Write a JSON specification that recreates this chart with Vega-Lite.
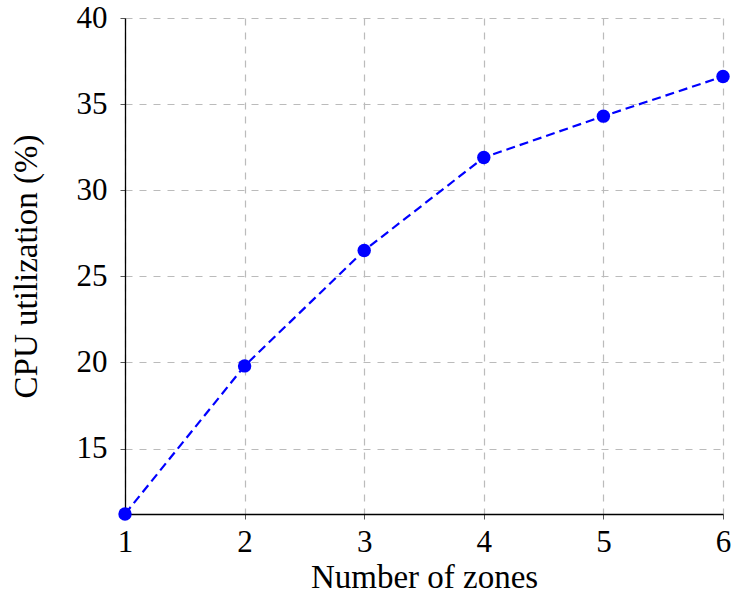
{
  "$schema": "https://vega.github.io/schema/vega-lite/v6.json",
  "width": 598,
  "height": 496,
  "autosize": "none",
  "padding": {"left": 125, "top": 18, "right": 9, "bottom": 82},
  "background": "white",
  "config": {"view": {"stroke": null}, "font": "Liberation Serif"},
  "data": {"values": [
    {"zones": 1, "cpu": 11.2},
    {"zones": 2, "cpu": 19.8},
    {"zones": 3, "cpu": 26.5},
    {"zones": 4, "cpu": 31.9},
    {"zones": 5, "cpu": 34.3},
    {"zones": 6, "cpu": 36.6}
  ]},
  "encoding": {
    "x": {"field": "zones", "type": "quantitative",
      "scale": {"domain": [1, 6], "nice": false, "zero": false},
      "axis": {"values": [1, 2, 3, 4, 5, 6], "title": "Number of zones", "titleFont": "Liberation Serif", "titleFontSize": 33, "titleFontWeight": "normal", "titleColor": "black", "titlePadding": 4,
        "labelFont": "Liberation Serif", "labelFontSize": 31, "labelColor": "black", "labelPadding": 8, "labelFlush": false,
        "domainColor": "black", "domainWidth": 1.3, "tickColor": "#555", "tickSize": 5, "tickOffset": 0,
        "grid": true, "gridColor": "#bbbbbb", "gridDash": [7, 7], "gridWidth": 1.2}},
    "y": {"field": "cpu", "type": "quantitative",
      "scale": {"domain": [11.2, 40], "nice": false, "zero": false},
      "axis": {"values": [15, 20, 25, 30, 35, 40], "title": "CPU utilization (%)", "titleFont": "Liberation Serif", "titleFontSize": 33, "titleFontWeight": "normal", "titleColor": "black", "titlePadding": 33,
        "labelFont": "Liberation Serif", "labelFontSize": 31, "labelColor": "black", "labelPadding": 13, "labelFlush": false,
        "domainColor": "black", "domainWidth": 1.3, "tickColor": "#555", "tickSize": 5,
        "grid": true, "gridColor": "#bbbbbb", "gridDash": [7, 7], "gridWidth": 1.2}}
  },
  "layer": [
    {"mark": {"type": "line", "color": "#0000ff", "strokeWidth": 2.2, "strokeDash": [9, 5]}},
    {"mark": {"type": "point", "filled": true, "color": "#0000ff", "opacity": 1, "size": 180, "shape": "circle"}}
  ]
}
